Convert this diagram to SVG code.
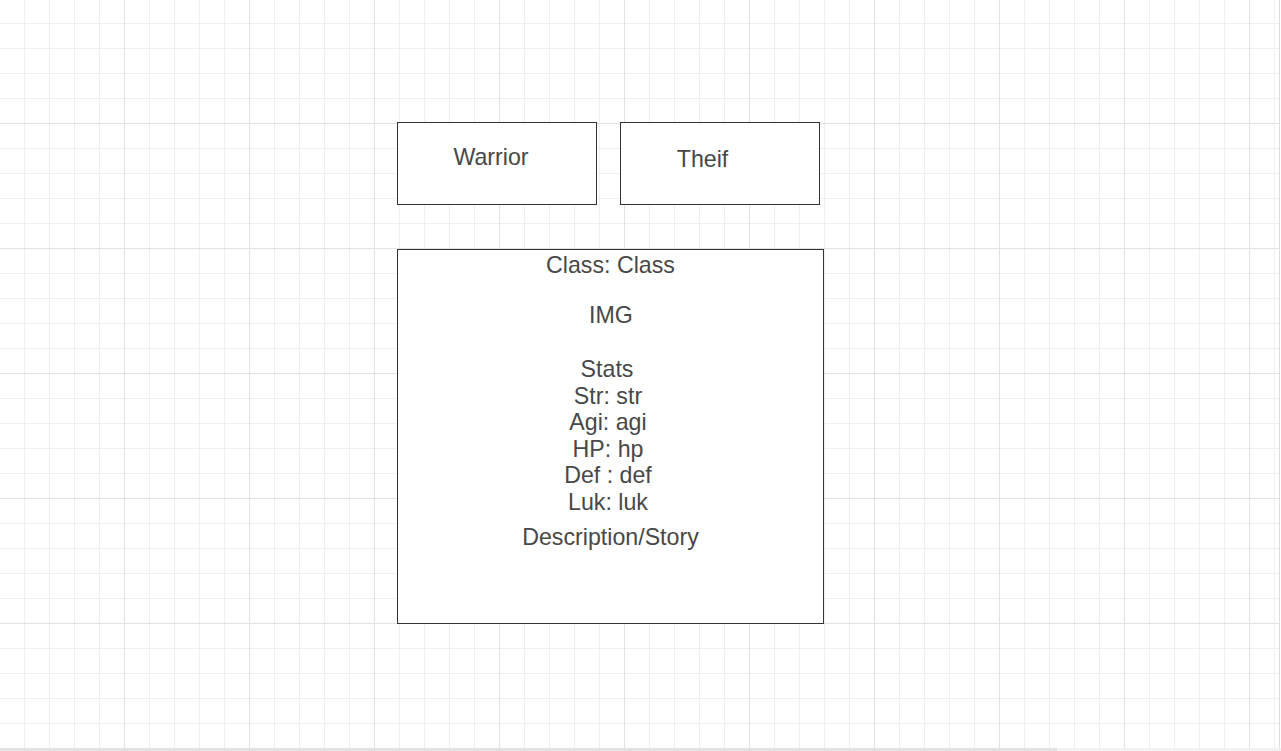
<svg xmlns="http://www.w3.org/2000/svg" width="1281" height="751" viewBox="0 0 1281 751">
<style>
.box{fill:#ffffff;stroke:#333333;stroke-width:1}
.t{font-family:"Liberation Sans",Arial,sans-serif;font-size:23.2px;fill:#484848;text-anchor:middle}
</style>
<defs>
<pattern id="minor" x="24" y="23" width="25" height="25" patternUnits="userSpaceOnUse">
<rect x="0" y="0" width="1" height="25" fill="#efefef"/>
<rect x="0" y="0" width="25" height="1" fill="#efefef"/>
</pattern>
<pattern id="major" x="124" y="123" width="125" height="125" patternUnits="userSpaceOnUse">
<rect x="0" y="0" width="1" height="125" fill="#e2e2e2"/>
<rect x="0" y="0" width="125" height="1" fill="#e2e2e2"/>
</pattern>
</defs>
<rect width="1281" height="751" fill="#ffffff"/>
<rect width="1281" height="751" fill="url(#minor)"/>
<rect width="1281" height="751" fill="url(#major)"/>
<rect x="1279" y="0" width="1" height="751" fill="#dddddd"/>
<rect x="1280" y="0" width="1" height="751" fill="#ffffff"/>
<rect x="0" y="748" width="1281" height="3" fill="#f2f2f2"/>
<rect x="0" y="748" width="1057" height="3" fill="#e2e2e2"/>
<g id="connectors"></g>
<g id="warrior">
<rect class="box" x="397.5" y="122.5" width="199" height="82"/>
<text class="t" x="491" y="165">Warrior</text>
</g>
<g id="theif">
<rect class="box" x="620.5" y="122.5" width="199" height="82"/>
<text class="t" x="702.5" y="167.3">Theif</text>
</g>
<g id="card">
<rect class="box" x="397.5" y="249.5" width="426" height="374"/>
<text class="t" x="610.5" y="273.3">Class: Class</text>
<text class="t" x="611" y="323.3">IMG</text>
<text class="t" x="607" y="377">Stats</text>
<text class="t" x="608" y="403.5">Str: str</text>
<text class="t" x="608" y="430">Agi: agi</text>
<text class="t" x="608" y="456.7">HP: hp</text>
<text class="t" x="608" y="483.3">Def : def</text>
<text class="t" x="608" y="510">Luk: luk</text>
<text class="t" x="610.5" y="545">Description/Story</text>
</g>
</svg>
